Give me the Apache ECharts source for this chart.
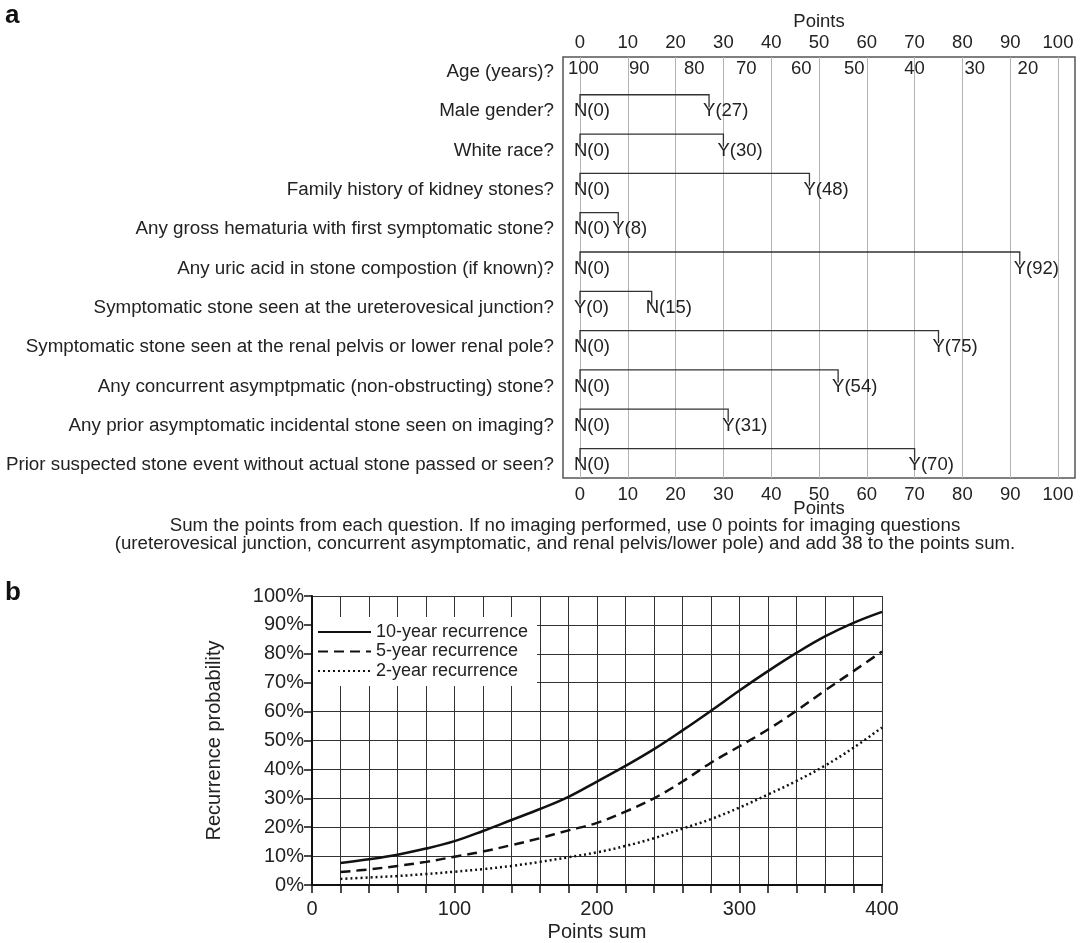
<!DOCTYPE html>
<html>
<head>
<meta charset="utf-8">
<script src="https://cdn.jsdelivr.net/npm/echarts@6/dist/echarts.min.js"></script>
<style>
html,body{margin:0;padding:0;background:#fff;}
#chart{width:1085px;height:943px;}
</style>
</head>
<body>
<div id="chart"></div>
<script>
// ---------- Panel a data ----------
const questions = [
  'Age (years)?',
  'Male gender?',
  'White race?',
  'Family history of kidney stones?',
  'Any gross hematuria with first symptomatic stone?',
  'Any uric acid in stone compostion (if known)?',
  'Symptomatic stone seen at the ureterovesical junction?',
  'Symptomatic stone seen at the renal pelvis or lower renal pole?',
  'Any concurrent asymptpmatic (non-obstructing) stone?',
  'Any prior asymptomatic incidental stone seen on imaging?',
  'Prior suspected stone event without actual stone passed or seen?'
];
const ageLabels = ['100', '90', '80', '70', '60', '50', '40', '30', '20'];
const agePoints = [0.7, 12.4, 23.9, 34.8, 46.3, 57.4, 70.0, 82.6, 93.7];
// binary rows (rows 1..10)
const zeroLabels = ['N', 'N', 'N', 'N', 'N', 'Y', 'N', 'N', 'N', 'N'];
const oneLabels  = ['Y', 'Y', 'Y', 'Y', 'Y', 'N', 'Y', 'Y', 'Y', 'Y'];
const onePoints  = [27, 30, 48, 8, 92, 15, 75, 54, 31, 70];
const footnote = [
  'Sum the points from each question. If no imaging performed, use 0 points for imaging questions',
  '(ureterovesical junction, concurrent asymptomatic, and renal pelvis/lower pole) and add 38 to the points sum.'
];

// ---------- Panel b data ----------
const pointsSum = [20, 40, 60, 80, 100, 120, 140, 160, 180, 200, 220, 240, 260, 280, 300, 320, 340, 360, 380, 400];
const tenYear  = [7.6, 8.9, 10.5, 12.6, 15.2, 18.7, 22.5, 26.3, 30.5, 35.8, 41.2, 47.0, 53.5, 60.3, 67.3, 74.0, 80.3, 86.0, 90.7, 94.5];
const fiveYear = [4.5, 5.4, 6.6, 8.0, 9.8, 11.6, 13.8, 16.2, 18.9, 21.5, 25.4, 30.0, 35.8, 42.3, 48.0, 53.8, 60.3, 67.3, 74.0, 80.8];
const twoYear  = [2.1, 2.6, 3.1, 3.8, 4.6, 5.5, 6.6, 8.0, 9.6, 11.3, 13.5, 16.2, 19.5, 22.8, 26.8, 31.3, 36.0, 41.3, 47.5, 54.5];
const seriesNames = ['10-year recurrence', '5-year recurrence', '2-year recurrence'];

// ---------- chart ----------
const FONT = '"Liberation Sans", Arial, Helvetica, sans-serif';
const TXT = '#222';
const QSIZE = 18.8;
const chart = echarts.init(document.getElementById('chart'), null, {renderer: 'canvas'});

const rowData = questions.map((q, i) => [0, i]);
const ageData = agePoints.map((p, k) => [p, 0, k]);
const binData = onePoints.map((p, k) => [p, k + 1, k]);

function txt(text, x, y, align, size) {
  return {
    type: 'text',
    style: {text: text, x: x, y: y, align: align, verticalAlign: 'middle',
            fontSize: size, fontFamily: FONT, fill: TXT}
  };
}

const option = {
  animation: false,
  backgroundColor: '#fff',
  textStyle: {fontFamily: FONT},
  grid: [
    {left: 563, top: 57, width: 512, height: 421, show: true, borderColor: '#555', borderWidth: 1.5, backgroundColor: 'transparent'},
    {left: 580, top: 57, width: 478, height: 421},
    {left: 312, top: 596, width: 570, height: 290}
  ],
  xAxis: [
    {gridIndex: 0, type: 'value', min: 0, max: 1, show: false},
    {gridIndex: 1, type: 'value', min: 0, max: 100, interval: 10, position: 'top',
     axisLine: {show: false}, axisTick: {show: false},
     axisLabel: {fontSize: 18.5, color: TXT, margin: 5, fontFamily: FONT},
     splitLine: {show: true, lineStyle: {color: '#b4b4b4', width: 1}},
     name: 'Points', nameLocation: 'middle', nameGap: 26, nameMoveOverlap: false,
     nameTextStyle: {fontSize: 18.5, color: TXT, fontFamily: FONT}},
    {gridIndex: 1, type: 'value', min: 0, max: 100, interval: 10, position: 'bottom',
     axisLine: {show: false}, axisTick: {show: false},
     axisLabel: {fontSize: 18.5, color: TXT, margin: 7, fontFamily: FONT},
     splitLine: {show: false},
     name: 'Points', nameLocation: 'middle', nameGap: 21, nameMoveOverlap: false,
     nameTextStyle: {fontSize: 18.5, color: TXT, fontFamily: FONT}},
    {gridIndex: 2, type: 'value', min: 0, max: 400, interval: 20,
     axisLine: {show: true, onZero: false, lineStyle: {color: '#111', width: 2}},
     axisTick: {show: true, length: 8, lineStyle: {color: '#111', width: 1.5}},
     axisLabel: {fontSize: 20, color: TXT, margin: 14, fontFamily: FONT,
                 formatter: v => (v % 100 === 0 ? String(v) : '')},
     splitLine: {show: true, lineStyle: {color: '#333', width: 1}},
     name: 'Points sum', nameLocation: 'middle', nameGap: 37,
     nameTextStyle: {fontSize: 20, color: TXT, fontFamily: FONT}}
  ],
  yAxis: [
    {gridIndex: 0, type: 'value', min: 0, max: 1, show: false},
    {gridIndex: 1, type: 'value', inverse: true, min: -0.38, max: 10.33, show: false},
    {gridIndex: 2, type: 'value', min: 0, max: 100, interval: 10,
     axisLine: {show: true, onZero: false, lineStyle: {color: '#111', width: 2}},
     axisTick: {show: true, length: 8, lineStyle: {color: '#111', width: 1.5}},
     axisLabel: {fontSize: 20, color: TXT, margin: 8, fontFamily: FONT, formatter: '{value}%'},
     splitLine: {show: true, lineStyle: {color: '#333', width: 1}},
     name: 'Recurrence probability', nameLocation: 'middle', nameGap: 88, nameRotate: 90,
     nameTextStyle: {fontSize: 20, color: TXT, fontFamily: FONT}}
  ],
  legend: {
    data: seriesNames,
    orient: 'vertical',
    left: 313, top: 617,
    itemWidth: 53, itemHeight: 14, itemGap: 1.5,
    padding: [6, 9, 6, 4],
    backgroundColor: '#fff',
    itemStyle: {opacity: 0},
    textStyle: {fontSize: 18, color: TXT, fontFamily: FONT},
    selectedMode: false
  },
  graphic: [
    {type: 'text', x: 5, y: 16, style: {text: 'a', font: 'bold 26px ' + FONT, fill: '#111', verticalAlign: 'middle'}},
    {type: 'text', x: 5, y: 593, style: {text: 'b', font: 'bold 26px ' + FONT, fill: '#111', verticalAlign: 'middle'}},
    {type: 'text', x: 565, y: 526, style: {text: footnote[0], align: 'center', verticalAlign: 'middle', font: '18.7px ' + FONT, fill: TXT}},
    {type: 'text', x: 565, y: 544, style: {text: footnote[1], align: 'center', verticalAlign: 'middle', font: '18.7px ' + FONT, fill: TXT}}
  ],
  series: [
    // question labels on the left
    {type: 'custom', xAxisIndex: 1, yAxisIndex: 1, data: rowData, silent: true,
     renderItem: function (params, api) {
       const i = api.value(1);
       const p = api.coord([0, i]);
       return txt(questions[i], p[0] - 26, p[1], 'right', QSIZE);
     }},
    // age scale labels
    {type: 'custom', xAxisIndex: 1, yAxisIndex: 1, data: ageData, silent: true,
     renderItem: function (params, api) {
       const p = api.coord([api.value(0), api.value(1)]);
       return txt(ageLabels[api.value(2)], p[0], p[1] - 3, 'center', 18.5);
     }},
    // binary brackets
    {type: 'custom', xAxisIndex: 1, yAxisIndex: 1, data: binData, silent: true,
     renderItem: function (params, api) {
       const k = api.value(2);
       const row = api.value(1);
       const p0 = api.coord([0, row]);
       const p1 = api.coord([api.value(0), row]);
       const y = p0[1];
       return {
         type: 'group',
         children: [
           {type: 'polyline',
            shape: {points: [[p0[0], y - 4], [p0[0], y - 16.5], [p1[0], y - 16.5], [p1[0], y - 4]]},
            style: {stroke: '#333', lineWidth: 1.3, fill: null}},
           txt(zeroLabels[k] + '(0)', p0[0] - 6, y, 'left', 18.5),
           txt(oneLabels[k] + '(' + onePoints[k] + ')', p1[0] - 6, y, 'left', 18.5)
         ]
       };
     }},
    {name: seriesNames[0], type: 'line', xAxisIndex: 3, yAxisIndex: 2, symbol: 'none', smooth: 0.4,
     data: pointsSum.map((x, i) => [x, tenYear[i]]),
     itemStyle: {color: '#111'},
     lineStyle: {color: '#111', width: 2.5, type: 'solid'}},
    {name: seriesNames[1], type: 'line', xAxisIndex: 3, yAxisIndex: 2, symbol: 'none', smooth: 0.4,
     data: pointsSum.map((x, i) => [x, fiveYear[i]]),
     itemStyle: {color: '#111'},
     lineStyle: {color: '#111', width: 2.5, type: [10, 6]}},
    {name: seriesNames[2], type: 'line', xAxisIndex: 3, yAxisIndex: 2, symbol: 'none', smooth: 0.4,
     data: pointsSum.map((x, i) => [x, twoYear[i]]),
     itemStyle: {color: '#111'},
     lineStyle: {color: '#111', width: 2.5, type: [2, 3]}}
  ]
};
chart.setOption(option);
</script>
</body>
</html>
